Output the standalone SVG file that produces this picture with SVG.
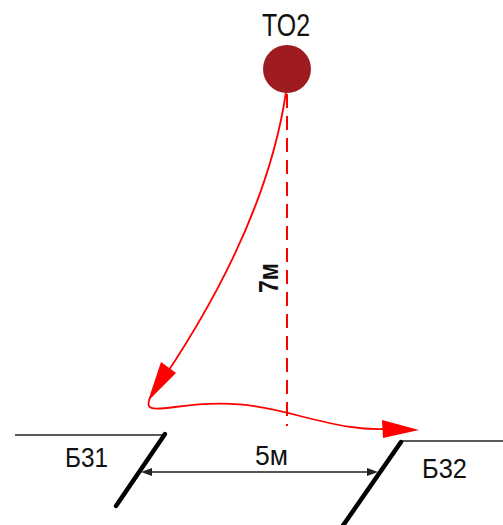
<svg xmlns="http://www.w3.org/2000/svg" width="503" height="525" viewBox="0 0 503 525">
<style>
.lbl{font-family:"Liberation Sans",Arial,sans-serif;fill:#111;}
.red{fill:none;stroke:#ff0000;stroke-width:1.8;}
.wall{stroke:#000;stroke-width:4.5;stroke-linecap:round;}
.ground{stroke:#222;stroke-width:1.5;}
</style>
<rect width="503" height="525" fill="#fff"/>
<g id="connectors">
<line x1="287" y1="94" x2="287" y2="426" stroke="#ff0000" stroke-width="2" stroke-dasharray="14 8"/>
<path class="red" d="M286,92 C270,200 215,305 150,398 C145,410 152,410 175,407 C225,400 255,404 300,416 C340,426 360,430 386,429"/>
<polygon points="148,401 161,362 176,373" fill="#ff0000"/>
<polygon points="419,430 382,420 383,438" fill="#ff0000"/>
<g id="dimension">
<line x1="145" y1="472" x2="375" y2="472" stroke="#555" stroke-width="2"/>
<polygon points="141,472 152,468 152,476" fill="#222"/>
<polygon points="378,472 367,468 367,476" fill="#222"/>
</g>
</g>
<g id="TO2">
<circle cx="287" cy="69" r="24" fill="#9e1b1f"/>
<text class="lbl" x="286" y="36" font-size="32" text-anchor="middle" textLength="48" lengthAdjust="spacingAndGlyphs">TO2</text>
</g>
<g id="label7m">
<text class="lbl" transform="translate(278,278) rotate(-90)" font-size="28" font-weight="bold" text-anchor="middle" textLength="30" lengthAdjust="spacingAndGlyphs">7м</text>
</g>
<g id="B31">
<line class="ground" x1="15" y1="435" x2="165" y2="435"/>
<line class="wall" x1="165" y1="434" x2="116" y2="506"/>
<text class="lbl" x="65" y="467" font-size="28" textLength="43" lengthAdjust="spacingAndGlyphs">Б31</text>
</g>
<g id="B32">
<line class="ground" x1="402" y1="441" x2="503" y2="441"/>
<line class="wall" x1="401" y1="442" x2="342" y2="527"/>
<text class="lbl" x="422" y="478" font-size="28" textLength="45" lengthAdjust="spacingAndGlyphs">Б32</text>
</g>
<g id="label5m">
<text class="lbl" x="255" y="465" font-size="28" textLength="33" lengthAdjust="spacingAndGlyphs">5м</text>
</g>
</svg>
